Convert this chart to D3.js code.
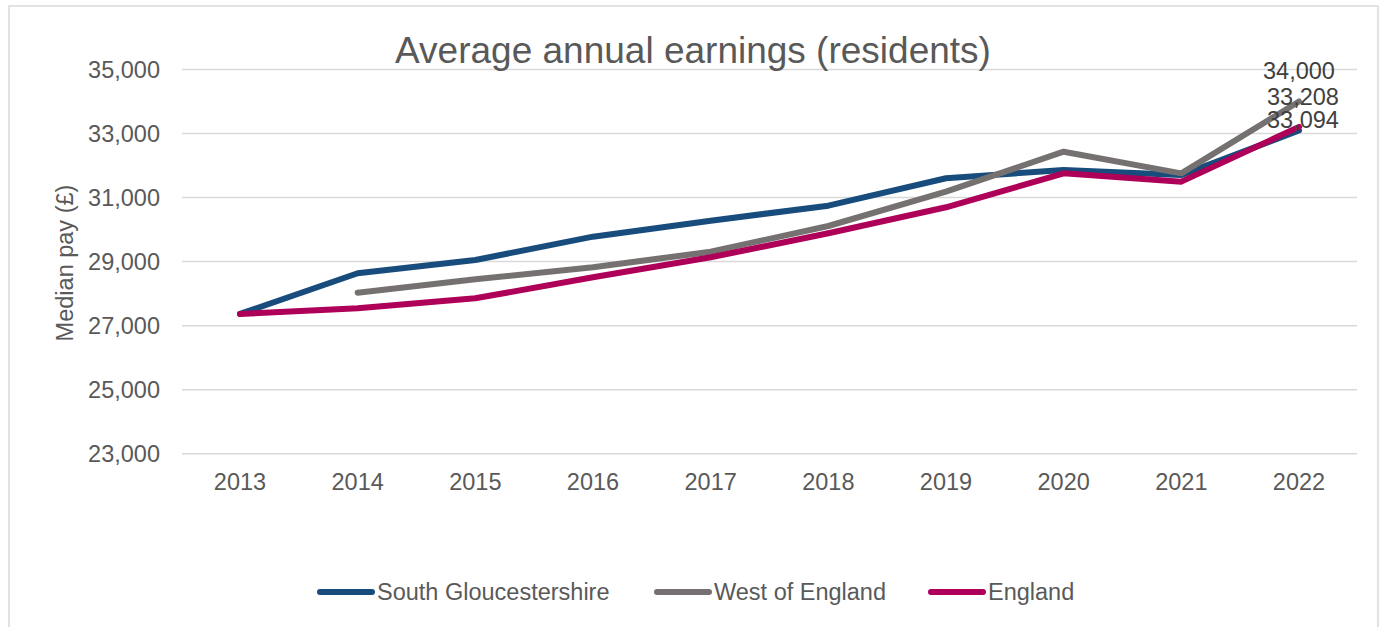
<!DOCTYPE html>
<html><head><meta charset="utf-8">
<script src="https://cdn.jsdelivr.net/npm/d3@7"></script>
<style>
body{margin:0;background:#fff;}
svg{display:block;font-family:"Liberation Sans",Arial,sans-serif;}
</style></head>
<body>
<svg id="c" width="1384" height="627"></svg>
<script>
const years = ["2013","2014","2015","2016","2017","2018","2019","2020","2021","2022"];
const southGlos = [27365, 28635, 29051, 29779, 30278, 30747, 31602, 31861, 31705, 33094];
const westOfEngland = [null, 28030, 28447, 28822, 29310, 30112, 31184, 32433, 31757, 34000];
const england = [27365, 27542, 27854, 28510, 29134, 29884, 30696, 31757, 31497, 33208];
const yTicks = [23000, 25000, 27000, 29000, 31000, 33000, 35000];
const seriesNames = ["South Gloucestershire", "West of England", "England"];

const series = [
  {name: seriesNames[0], values: southGlos, color: "#174C7D"},
  {name: seriesNames[1], values: westOfEngland, color: "#767171"},
  {name: seriesNames[2], values: england, color: "#AF0059"}
];

const svg = d3.select("#c");
// outer border
svg.append("rect").attr("x", 9).attr("y", 6).attr("width", 1369).attr("height", 640)
  .attr("fill", "none").attr("stroke", "#D9D9D9").attr("stroke-width", 1.5);

const x = d3.scalePoint().domain(years).range([240, 1299]);
const y = d3.scaleLinear().domain([23000, 35000]).range([453.7, 69.5]);
const plotL = 182, plotR = 1357;

// grid
svg.append("g").selectAll("line").data(yTicks).join("line")
  .attr("x1", plotL).attr("x2", plotR)
  .attr("y1", d => y(d)).attr("y2", d => y(d))
  .attr("stroke", "#D9D9D9").attr("stroke-width", 1.5);

// y axis labels
const fmt = d3.format(",");
svg.append("g").selectAll("text").data(yTicks).join("text")
  .attr("x", 160).attr("y", d => y(d)).attr("dy", "0.35em")
  .attr("text-anchor", "end").attr("font-size", 23.5).attr("fill", "#595959")
  .text(d => fmt(d));

// x axis labels
svg.append("g").selectAll("text").data(years).join("text")
  .attr("x", d => x(d)).attr("y", 482).attr("dy", "0.35em")
  .attr("text-anchor", "middle").attr("font-size", 23.5).attr("fill", "#595959")
  .text(d => d);

// y title
svg.append("text").attr("transform", "translate(65,263) rotate(-90)")
  .attr("text-anchor", "middle").attr("dy", "0.35em")
  .attr("font-size", 23.5).attr("fill", "#595959").text("Median pay (£)");

// title
svg.append("text").attr("x", 693).attr("y", 50).attr("dy", "0.35em")
  .attr("text-anchor", "middle").attr("font-size", 37).attr("fill", "#595959")
  .text("Average annual earnings (residents)");

// lines
const line = d3.line().defined(d => d.v !== null)
  .x(d => x(d.year)).y(d => y(d.v));
series.forEach(s => {
  const pts = years.map((yr, i) => ({year: yr, v: s.values[i]}));
  svg.append("path").datum(pts).attr("d", line)
    .attr("fill", "none").attr("stroke", s.color).attr("stroke-width", 6)
    .attr("stroke-linejoin", "round").attr("stroke-linecap", "round");
});

// data labels at last point
const labelDy = [-10.5, -31, -30];
series.forEach((s, i) => {
  const last = years.length - 1;
  const v = s.values[last];
  svg.append("text").attr("x", x(years[last]) + (i === 1 ? 0 : 4))
    .attr("y", y(v) + labelDy[i]).attr("dy", "0.35em")
    .attr("text-anchor", "middle").attr("font-size", 23.5).attr("fill", "#404040")
    .text(fmt(v));
});

// legend
const legendX = [320, 657, 931];
const lg = svg.append("g");
series.forEach((s, i) => {
  lg.append("line").attr("x1", legendX[i]).attr("x2", legendX[i] + 52)
    .attr("y1", 592).attr("y2", 592)
    .attr("stroke", s.color).attr("stroke-width", 6).attr("stroke-linecap", "round");
  lg.append("text").attr("x", legendX[i] + 57).attr("y", 592).attr("dy", "0.35em")
    .attr("font-size", 23.5).attr("fill", "#595959").text(s.name);
});
</script>
</body></html>
